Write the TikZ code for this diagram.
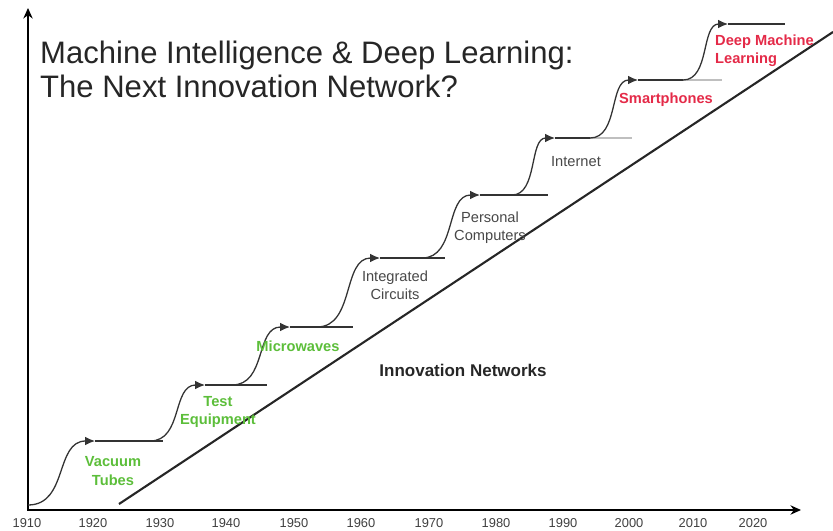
\documentclass[tikz,border=0pt]{standalone}
\usepackage{fontspec}
\setmainfont{Liberation Sans}
\usetikzlibrary{arrows.meta,calc}

\definecolor{techgreen}{RGB}{92,190,58}
\definecolor{techred}{RGB}{228,42,72}
\definecolor{techgray}{RGB}{72,72,72}

\begin{document}
\begin{tikzpicture}[x=0.03cm, y=-0.03cm,
    axis/.style={line width=2.2pt, {Stealth[length=9pt,width=8pt]}-{Stealth[length=9pt,width=8pt]}},
    trend/.style={line width=1.8pt, draw=black!85},
    wave/.style={line width=1.1pt, draw=black!80, -{Latex[length=8.5pt,width=7.5pt]}},
    shelf/.style={line width=1.1pt, draw=black!80},
    faded/.style={line width=1.1pt, draw=black!25},
    era/.style={font=\fontsize{12.5}{15.5}\selectfont\bfseries, text=techgreen, align=center, inner sep=0pt},
    tech/.style={font=\fontsize{12.5}{15.5}\selectfont, text=techgray, align=center, inner sep=0pt},
    next/.style={font=\fontsize{12.5}{15.5}\selectfont\bfseries, text=techred, align=left, inner sep=0pt},
    year/.style={font=\fontsize{11}{12}\selectfont, text=black!75, inner sep=0pt}
]
\useasboundingbox (0,0) rectangle (833,531);

\coordinate (o) at (28,510);
\coordinate (xend) at (801,510);
\coordinate (yend) at (28,8);
\draw[axis] (yend) -- (o) -- (xend);

\coordinate (d0) at (119,504);
\coordinate (d1) at (833,32);
\draw[trend] (d0) -- (d1);

\foreach \n/\xa/\ya/\xb/\yb/\xc/\look in {
    1/28/505/95/441/163/shelf, 2/150/441/205/385/267/shelf,
    3/232/385/290/327/353/shelf, 4/317/327/380/258/445/shelf,
    5/422/258/480/195/548/shelf, 6/512/195/555/138/632/faded,
    7/590/138/638/80/722/faded, 8/683/80/728/24/785/shelf} {
  \coordinate (a\n) at (\xa,\ya);
  \coordinate (b\n) at (\xb,\yb);
  \coordinate (c\n) at (\xc,\yb);
  \draw[\look] (b\n) -- (c\n);
  \draw[wave] (a\n) .. controls ($(a\n)!0.6!(b\n |- a\n)$) and ($(b\n)!0.6!(a\n |- b\n)$) .. (b\n);
}
\draw[shelf] (b6) -- (a7);
\draw[shelf] (b7) -- (a8);

\node[anchor=north west, inner sep=0pt, align=left, font=\fontsize{26.5}{29}\selectfont, text=black!85] (title) at (40,40.5)
  {Machine Intelligence \& Deep Learning:\\The Next Innovation Network?};

\node[era] (vacuum) at (113,471) {Vacuum\\Tubes};
\node[era] (test) at (218,412) {Test\\Equipment};
\node[era] (micro) at (298,346) {Microwaves};
\node[tech] (ic) at (395,285.5) {Integrated\\Circuits};
\node[tech] (pc) at (490,227.5) {Personal\\Computers};
\node[tech] (net) at (576,162) {Internet};
\node[next] (phones) at (666,100) {Smartphones};
\node[next, anchor=west] (dml) at (715,50.5) {Deep Machine\\Learning};
\node[font=\fontsize{14.5}{16}\selectfont\bfseries, text=black!85, inner sep=0pt] (innov) at (463,370) {Innovation Networks};

\foreach \yr/\xx in {1910/27,1920/93,1930/160,1940/226,1950/294,1960/361,
    1970/429,1980/496,1990/563,2000/629,2010/693,2020/753}
  \node[year] (y\yr) at (\xx,523) {\yr};
\end{tikzpicture}
\end{document}
